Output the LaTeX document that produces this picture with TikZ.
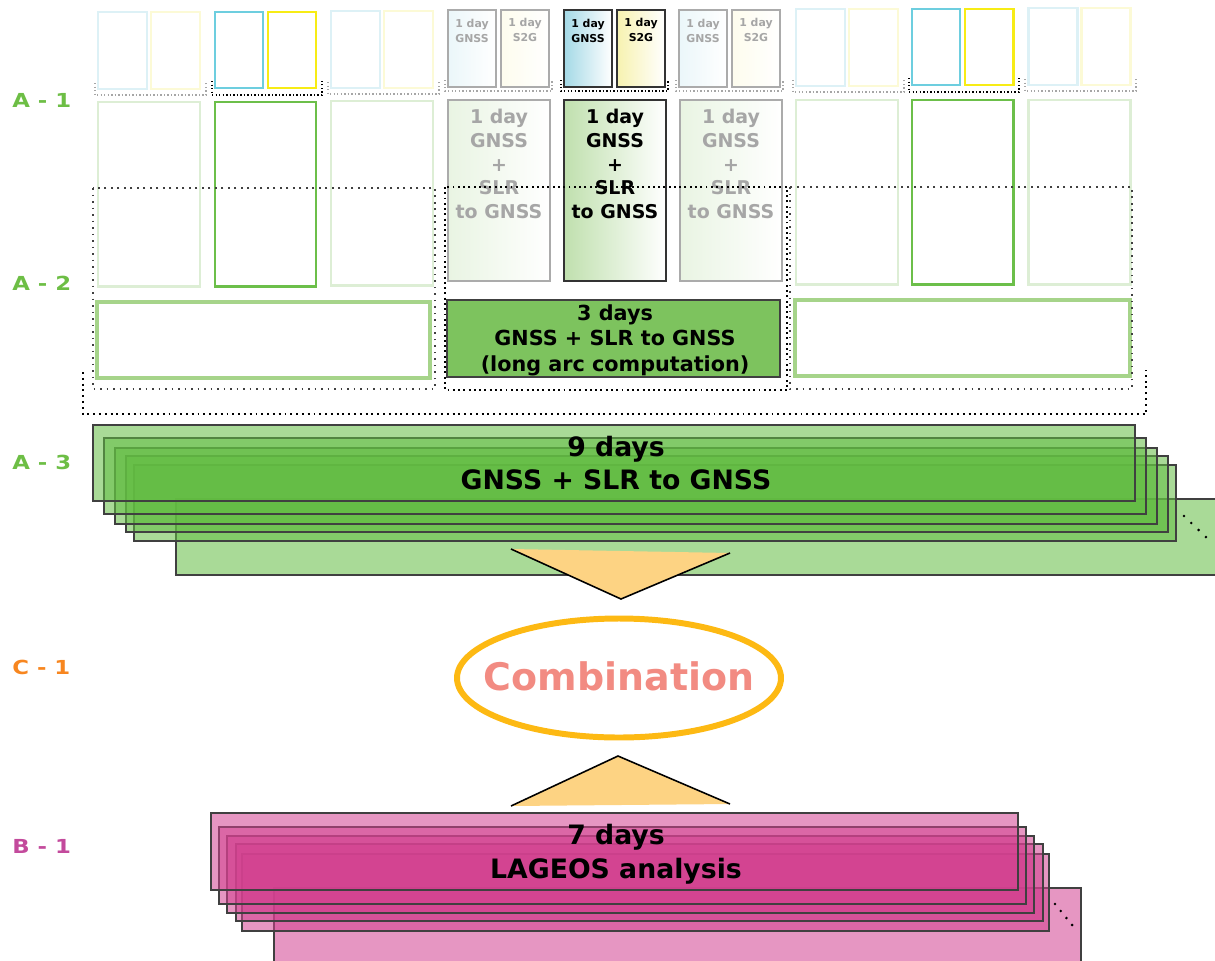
\documentclass[tikz,border=0pt]{standalone}
\usepackage{fontspec}
\setmainfont{DejaVu Sans}
\newfontfamily\labelfont[FakeStretch=1.18]{DejaVu Sans}
\usetikzlibrary{shapes.geometric}

\definecolor{fadeblue}{HTML}{DDF1F6}
\definecolor{fadeyellow}{HTML}{FCFAD6}
\definecolor{gnssblue}{HTML}{6DCEDF}
\definecolor{slryellow}{HTML}{F7EC15}
\definecolor{dayblue}{HTML}{A4D9E6}
\definecolor{dayyellow}{HTML}{F7F2B0}
\definecolor{fadegreen}{HTML}{DDEED5}
\definecolor{arcgreen}{HTML}{6CBF4A}
\definecolor{arcshade}{HTML}{C0E0AE}
\definecolor{threefill}{HTML}{7DC35E}
\definecolor{palegreen}{HTML}{A6D48A}
\definecolor{stackgreen}{HTML}{62BC42}
\definecolor{stackpink}{HTML}{D2408F}
\definecolor{wedge}{HTML}{FDD383}
\definecolor{combiring}{HTML}{FDB913}
\definecolor{combitext}{HTML}{F28B82}
\definecolor{labelgreen}{HTML}{6DBE45}
\definecolor{labelorange}{HTML}{F7861F}
\definecolor{labelpink}{HTML}{C34A9C}

\tikzstyle{sidebox}=[line width=1.7pt]
\tikzstyle{dotline}=[line width=0.8pt, dash pattern=on 0.8pt off 1.2pt]
\tikzstyle{dotframe}=[line width=1.1pt, dash pattern=on 1.1pt off 2.6pt]
\tikzstyle{daytext}=[inner sep=0pt, align=center, font=\bfseries\fontsize{6.2}{8.5}\selectfont]
\tikzstyle{arctext}=[inner sep=0pt, align=center, font=\bfseries\fontsize{10.8}{13.6}\selectfont]
\tikzstyle{threetext}=[inner sep=0pt, align=center, font=\bfseries\fontsize{11.8}{14.5}\selectfont]
\tikzstyle{stacktext}=[inner sep=0pt, align=center, font=\bfseries\fontsize{15.2}{19.2}\selectfont]
\tikzstyle{stackA}=[draw=black!75, line width=0.9pt, fill=stackgreen, fill opacity=0.55]
\tikzstyle{stackB}=[draw=black!75, line width=0.9pt, fill=stackpink, fill opacity=0.55]
\tikzstyle{steplabel}=[anchor=west, inner sep=0pt, font=\labelfont\bfseries\fontsize{11}{13}\selectfont]

\begin{document}
\begin{tikzpicture}[x=0.02cm, y=-0.02cm]
	% Background, frame
	\useasboundingbox (0,0) rectangle (1215,961);
	\clip (0,0) rectangle (1215,961);

	% % A-1: daily pairs
	\foreach \gx/\gy in {98/12, 331/11, 796/9, 1028/8} {
		\draw[sidebox, fadeblue] (\gx,\gy) rectangle ++(49,77);
		\draw[sidebox, fadeyellow] ({\gx+53},\gy) rectangle ++(49,77);
		\draw[dotline, black!35] ({\gx-3},{\gy+71}) -- ++(0,12) -- ++(111,0) -- ++(0,-12);
	}
	\foreach \gx/\gy in {215/12, 912/9} {
		\draw[sidebox, gnssblue] (\gx,\gy) rectangle ++(48,76);
		\draw[sidebox, slryellow] ({\gx+53},\gy) rectangle ++(48,76);
		\draw[dotline, black, line width=1pt] ({\gx-3},{\gy+69}) -- ++(0,14) -- ++(110,0) -- ++(0,-14);
	}
	\foreach \gx/\tone/\ink/\rim/\nm in {448/22/black!35/black!33/four, 564/100/black/black!80/five, 679/22/black!35/black!33/six} {
		\draw[line width=1.1pt, draw=\rim, left color=dayblue!\tone, right color=white] (\gx,10) rectangle ++(48,77);
		\draw[line width=1.1pt, draw=\rim, left color=dayyellow!\tone, right color=white] ({\gx+53},10) rectangle ++(48,77);
		\node (gnss\nm) [daytext, text=\ink] at ({\gx+24},31) {1 day\\GNSS};
		\node (stog\nm) [daytext, text=\ink] at ({\gx+77},30) {1 day\\S2G};
		\draw[dotline, \ink] ({\gx-3},80) -- ++(0,11) -- ++(107,0) -- ++(0,-11);
	}

	% % A-2: daily GNSS + SLR
	\foreach \gx/\gy in {98/102, 331/101, 796/100, 1028/100} {
		\draw[sidebox, fadegreen] (\gx,\gy) rectangle ++(102,184);
	}
	\foreach \gx/\gy in {215/102, 912/100} {
		\draw[sidebox, arcgreen] (\gx,\gy) rectangle ++(101,184);
	}
	\foreach \gx/\tone/\ink/\rim/\nm in {448/35/black!35/black!33/four, 564/100/black/black!80/five, 680/35/black!35/black!33/six} {
		\draw[line width=1.4pt, draw=\rim, left color=arcshade!\tone, right color=white] (\gx,100) rectangle ++(102,181);
		\node (arc\nm) [arctext, text=\ink] at ({\gx+51},164) {1 day\\GNSS\\+\\SLR\\to GNSS};
	}

	% three day arcs
	\draw[line width=2.3pt, palegreen] (97,302) rectangle (430,378);
	\draw[line width=2.3pt, palegreen] (795,300) rectangle (1130,376);
	\draw[line width=1.1pt, draw=black!75, fill=threefill] (447,300) rectangle (780,377);
	\node (threedays) [threetext] at (615,340) {3 days\\GNSS + SLR to GNSS\\(long arc computation)};

	% dotted groups
	\draw[dotframe, black!75] (93,188) rectangle (435,389);
	\draw[dotframe, black, dash pattern=on 1.1pt off 1.9pt] (445,187) rectangle (787,390);
	\draw[dotframe, black!75] (790,187) rectangle (1132,389);
	\draw[dotframe, black, dash pattern=on 1.1pt off 2.2pt] (83,372) -- (83,414) -- (1146,414) -- (1146,370);

	% % A-3: nine day stack
	\draw[stackA] (176,499) rectangle ++(1042,76);
	\foreach \sx/\sy in {134/465, 126/456, 115/448, 104/438, 93/425} {
		\draw[stackA] (\sx,\sy) rectangle ++(1042,76);
	}
	\node (ninedays) [stacktext] at (616,463) {9 days\\GNSS + SLR to GNSS};
	\foreach \t in {0,...,3} {
		\fill ({1184+7.3*\t},{516+7*\t}) circle (0.8pt);
	}

	% % C-1: combination
	\fill[wedge] (511,549) -- (730,553) -- (621,599) -- cycle;
	\draw[line width=0.9pt] (511,549) -- (621,599) -- (730,553);
	\node (combination) [inner sep=0pt, text=combitext, font=\bfseries\fontsize{21.6}{26}\selectfont] at (619,676) {Combination};
	\draw[combiring, line width=3.4pt] (619,678) ellipse [x radius=162, y radius=59.5];
	\fill[wedge] (511,806) -- (618,756) -- (730,804) -- cycle;
	\draw[line width=0.9pt] (511,806) -- (618,756) -- (730,804);

	% % B-1: seven day stack
	\draw[stackB] (274,888) rectangle ++(807,77);
	\foreach \sx/\sy in {242/854, 236/844, 227/836, 219/827, 211/813} {
		\draw[stackB] (\sx,\sy) rectangle ++(807,77);
	}
	\node (sevendays) [stacktext] at (616,854) {7 days\\LAGEOS analysis};
	\foreach \t in {0,...,3} {
		\fill ({1055+5.7*\t},{904+7*\t}) circle (0.8pt);
	}

	% % Step labels
	\foreach \lab/\ly/\col in {A - 1/100/labelgreen, A - 2/283/labelgreen, A - 3/462/labelgreen, C - 1/667/labelorange, B - 1/846/labelpink} {
		\node (step\ly) [steplabel, text=\col] at (12,\ly) {\lab};
	}
\end{tikzpicture}
\end{document}
